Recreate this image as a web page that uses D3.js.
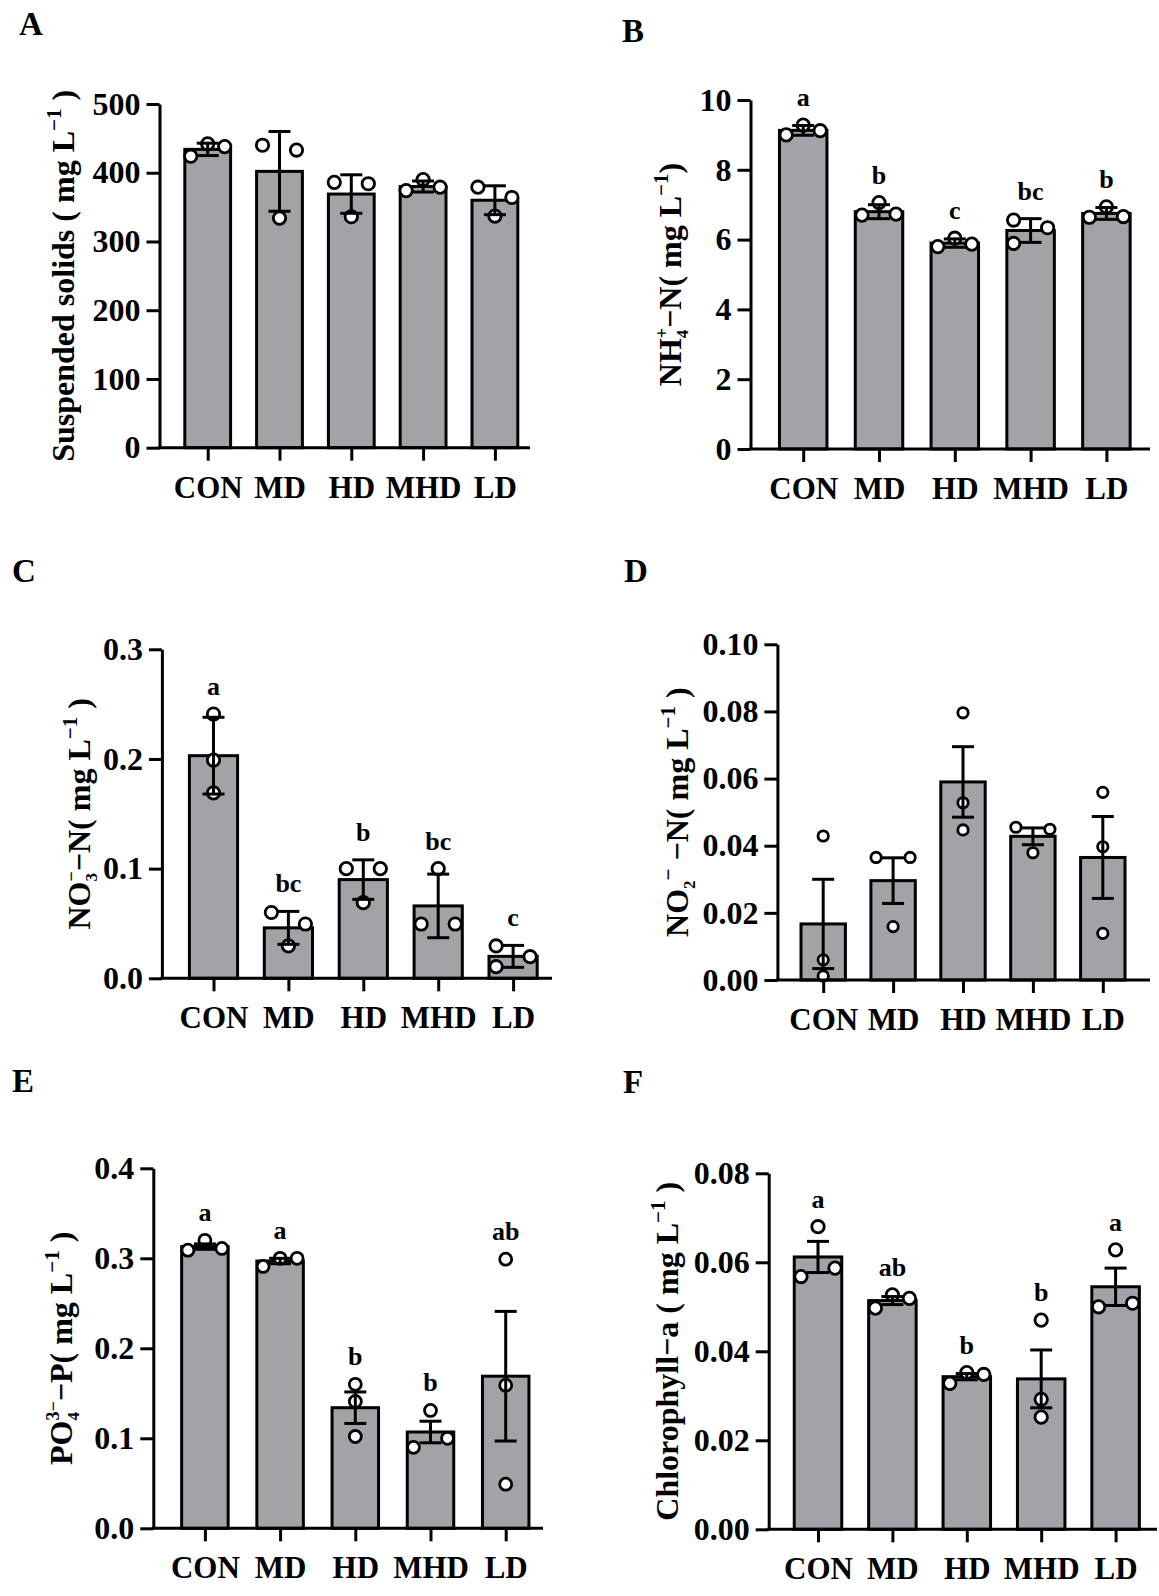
<!DOCTYPE html>
<html>
<head>
<meta charset="utf-8">
<script src="https://cdn.jsdelivr.net/npm/d3@7"></script>
<style>
  body { margin: 0; background: #fff; }
  svg text { font-family: "Liberation Serif", "Times New Roman", serif; font-weight: bold; fill: #000; }
</style>
</head>
<body>
<svg id="fig" width="1159" height="1596"></svg>
<script>
// groups
var cats = ["CON", "MD", "HD", "MHD", "LD"];

// A: suspended solids (mean, SD, replicates)
var aMean = [434, 402, 369, 380, 360];
var aErr = [9, 58, 28, 8, 21];
var aPts = [[424, 442, 438], [440, 334, 433], [386, 336, 384], [374, 390, 379], [379, 337, 364]];
var aTicks = [0, 100, 200, 300, 400, 500];

// B: NH4-N
var bMean = [9.13, 6.8, 5.9, 6.26, 6.75];
var bErr = [0.14, 0.2, 0.12, 0.34, 0.17];
var bPts = [[9.0, 9.28, 9.12], [6.70, 7.06, 6.73], [5.80, 6.04, 5.87], [6.56, 5.89, 6.34], [6.64, 6.94, 6.66]];
var bLetters = ["a", "b", "c", "bc", "b"];
var bTicks = [0, 2, 4, 6, 8, 10];

// C: NO3-N
var cMean = [0.203, 0.046, 0.090, 0.066, 0.020];
var cErr = [0.035, 0.015, 0.018, 0.029, 0.010];
var cPts = [[0.241, 0.199, 0.169], [0.060, 0.0495, 0.0295], [0.100, 0.100, 0.069], [0.100, 0.0495, 0.0495], [0.0295, 0.0106, 0.0197]];
var cLetters = ["a", "bc", "b", "bc", "c"];
var cTicks = [0, 0.1, 0.2, 0.3];

// D: NO2-N
var dMean = [0.0167, 0.0296, 0.0590, 0.0428, 0.0365];
var dErr = [0.0133, 0.0068, 0.0105, 0.0025, 0.0122];
var dPts = [[0.0429, 0.006, 0.0012], [0.0365, 0.0365, 0.0159], [0.0796, 0.0528, 0.0447], [0.0455, 0.0449, 0.0379], [0.0559, 0.0397, 0.0139]];
var dTicks = [0, 0.02, 0.04, 0.06, 0.08, 0.10];

// E: PO4-P
var eMean = [0.313, 0.297, 0.134, 0.107, 0.169];
var eErr = [0.003, 0.003, 0.0175, 0.012, 0.072];
var ePts = [[0.309, 0.320, 0.311], [0.291, 0.300, 0.300], [0.160, 0.141, 0.102], [0.090, 0.131, 0.100], [0.299, 0.159, 0.049]];
var eLetters = ["a", "a", "b", "b", "ab"];
var eTicks = [0, 0.1, 0.2, 0.3, 0.4];

// F: chlorophyll-a
var fMean = [0.0612, 0.0514, 0.0343, 0.0338, 0.0545];
var fErr = [0.0035, 0.0009, 0.0007, 0.0065, 0.0042];
var fPts = [[0.0568, 0.068, 0.0587], [0.0497, 0.0527, 0.0519], [0.0328, 0.0352, 0.0348], [0.047, 0.0292, 0.0252], [0.050, 0.0628, 0.0508]];
var fLetters = ["a", "ab", "b", "b", "a"];
var fTicks = [0, 0.02, 0.04, 0.06, 0.08];

// horizontal spread slots of the replicate dots (-1 left, 0 centre, 1 right)
var aJit = [[-1, 0, 1], [-1, 0, 1], [-1, 0, 1], [-1, 0, 1], [-1, 0, 1]];
var bJit = [[-1, 0, 1], [-1, 0, 1], [-1, 0, 1], [-1, -1, 1], [-1, 0, 1]];
var cJit = [[0, 0, 0], [-1, 1, 0], [-1, 1, 0], [0, -1, 1], [-1, -1, 1]];
var dJit = [[0, 0, 0], [-1, 1, 0], [0, 0, 0], [-1, 1, 0], [0, 0, 0]];
var eJit = [[-1, 0, 1], [-1, 0, 1], [0, 0, 0], [-1, 0, 1], [0, 0, 0]];
var fJit = [[-1, 0, 1], [-1, 0, 1], [-1, 0, 1], [0, 0, 0], [-1, 0, 1]];

var svg = d3.select("#fig");
var barFill = "#a3a2a7";

var panels = [
  { id: "A", mean: aMean, err: aErr, pts: aPts, jit: aJit, letters: null, ticks: aTicks, fmt: d3.format("d"),
    x0: 159.5, x1: 530, top: 104, bottom: 447.7, first: 207.7, step: 71.8, barW: 45.8, r: 6.2, titleX: 63, lx: 19, ly: 35,
    title: [["Suspended solids ( mg L", "n"], ["\u22121", "sup"], [" )", "n"]] },
  { id: "B", mean: bMean, err: bErr, pts: bPts, jit: bJit, letters: bLetters, ticks: bTicks, fmt: d3.format("d"),
    x0: 750.5, x1: 1150, top: 100, bottom: 449, first: 803.2, step: 75.8, barW: 47.5, r: 6.2, titleX: 670, lx: 622, ly: 42,
    title: [["NH", "n"], ["4", "sub"], ["+", "stack"], ["\u2212N( mg L", "n"], ["\u22121", "sup"], [")", "n"]] },
  { id: "C", mean: cMean, err: cErr, pts: cPts, jit: cJit, letters: cLetters, ticks: cTicks, fmt: d3.format(".1f"),
    x0: 161.9, x1: 552, top: 649.3, bottom: 978.3, first: 213.5, step: 74.9, barW: 48.2, r: 6.2, titleX: 79, lx: 12, ly: 582,
    title: [["NO", "n"], ["3", "sub"], ["\u2212", "stack"], ["\u2212N( mg L", "n"], ["\u22121", "sup"], [" )", "n"]] },
  { id: "D", mean: dMean, err: dErr, pts: dPts, jit: dJit, letters: null, ticks: dTicks, fmt: d3.format(".2f"),
    x0: 777.4, x1: 1150, top: 644.3, bottom: 980, first: 823.2, step: 69.9, barW: 44.4, r: 5.2, titleX: 677, lx: 624, ly: 582,
    title: [["NO", "n"], ["2", "sub"], ["\u2212", "sup"], [" \u2212N( mg L", "n"], ["\u22121", "sup"], [" )", "n"]] },
  { id: "E", mean: eMean, err: eErr, pts: ePts, jit: eJit, letters: eLetters, ticks: eTicks, fmt: d3.format(".1f"),
    x0: 153.3, x1: 543, top: 1168.3, bottom: 1528.3, first: 204.9, step: 75.2, barW: 46.5, r: 6, titleX: 61, lx: 12, ly: 1092,
    title: [["PO", "n"], ["4", "sub"], ["3\u2212", "stack"], ["\u2212P( mg L", "n"], ["\u22121", "sup"], [" )", "n"]] },
  { id: "F", mean: fMean, err: fErr, pts: fPts, jit: fJit, letters: fLetters, ticks: fTicks, fmt: d3.format(".2f"),
    x0: 768.7, x1: 1157, top: 1173.3, bottom: 1529.3, first: 818, step: 74.4, barW: 47.5, r: 6.2, titleX: 667, lx: 623, ly: 1093,
    title: [["Chlorophyll\u2212a ( mg L", "n"], ["\u22121", "sup"], [" )", "n"]] }
];

panels.forEach(drawPanel);

function drawPanel(p) {
  var g = svg.append("g");
  var ymax = p.ticks[p.ticks.length - 1];
  var y = d3.scaleLinear().domain([0, ymax]).range([p.bottom, p.top]);
  var x = d3.scalePoint().domain(cats).range([p.first, p.first + p.step * (cats.length - 1)]);

  // bars
  g.selectAll("rect.bar").data(cats).enter().append("rect")
    .attr("x", function(c) { return x(c) - p.barW / 2; })
    .attr("y", function(c, i) { return y(p.mean[i]); })
    .attr("width", p.barW)
    .attr("height", function(c, i) { return p.bottom - y(p.mean[i]); })
    .attr("fill", barFill).attr("stroke", "#000").attr("stroke-width", 3);

  // replicate dots
  var dots = [];
  cats.forEach(function(c, i) {
    p.pts[i].forEach(function(v, j) { dots.push({ cx: x(c) + p.jit[i][j] * 17, v: v }); });
  });
  g.selectAll("circle").data(dots).enter().append("circle")
    .attr("cx", function(d) { return d.cx; })
    .attr("cy", function(d) { return y(d.v); })
    .attr("r", p.r)
    .attr("fill", "#fff").attr("stroke", "#000").attr("stroke-width", 2.8);

  // error bars
  cats.forEach(function(c, i) {
    var lo = y(Math.max(0, p.mean[i] - p.err[i])), hi = y(p.mean[i] + p.err[i]);
    var cx = x(c);
    var eb = g.append("g").attr("stroke", "#000").attr("stroke-width", 3);
    eb.append("line").attr("x1", cx).attr("x2", cx).attr("y1", lo).attr("y2", hi);
    eb.append("line").attr("x1", cx - 11).attr("x2", cx + 11).attr("y1", hi).attr("y2", hi);
    eb.append("line").attr("x1", cx - 11).attr("x2", cx + 11).attr("y1", lo).attr("y2", lo);
  });

  // significance letters
  if (p.letters) {
    cats.forEach(function(c, i) {
      var topV = Math.max(d3.max(p.pts[i]), p.mean[i] + p.err[i]);
      g.append("text").attr("x", x(c)).attr("y", y(topV) - 19)
        .attr("text-anchor", "middle").style("font-size", "26px").text(p.letters[i]);
    });
  }

  // y axis
  var ya = g.append("g").attr("transform", "translate(" + p.x0 + ",0)")
    .call(d3.axisLeft(y).tickValues(p.ticks).tickFormat(p.fmt).tickSize(13).tickSizeOuter(0).tickPadding(6));
  ya.select(".domain").attr("stroke-width", 3);
  ya.selectAll(".tick line").attr("stroke-width", 3);
  ya.selectAll(".tick text").style("font-size", "32px")
    .style("font-family", "'Liberation Serif', 'Times New Roman', serif").style("font-weight", "bold");

  // x axis
  g.append("line").attr("x1", p.x0 - 1.5).attr("x2", p.x1).attr("y1", p.bottom).attr("y2", p.bottom)
    .attr("stroke", "#000").attr("stroke-width", 3);
  var xa = g.append("g").attr("transform", "translate(0," + p.bottom + ")")
    .call(d3.axisBottom(x).tickSize(13).tickPadding(15));
  xa.select(".domain").remove();
  xa.selectAll(".tick line").attr("stroke-width", 3);
  xa.selectAll(".tick text").style("font-size", "31px")
    .style("font-family", "'Liberation Serif', 'Times New Roman', serif").style("font-weight", "bold");

  // y title; baseline shifted right so the glyphs centre on titleX
  var cy = (p.top + p.bottom) / 2;
  var t = g.append("text").attr("transform", "translate(" + (p.titleX + 11) + "," + cy + ") rotate(-90)")
    .attr("text-anchor", "middle").style("font-size", "32px");
  var cur = 0, lastSub = 0;
  p.title.forEach(function(s) {
    var txt = s[0], kind = s[1], span = t.append("tspan").text(txt);
    var target = 0;
    if (kind === "sub") { target = 7; span.style("font-size", "17px"); lastSub = txt.length * 8.5; }
    else if (kind === "sup") { target = -13; span.style("font-size", "21px"); }
    else if (kind === "stack") { target = -13; span.style("font-size", "18px").attr("dx", -lastSub); }
    span.attr("dy", target - cur);
    cur = target;
  });

  // panel letter
  svg.append("text").attr("x", p.lx).attr("y", p.ly).style("font-size", "33px").text(p.id);
}
</script>
</body>
</html>
